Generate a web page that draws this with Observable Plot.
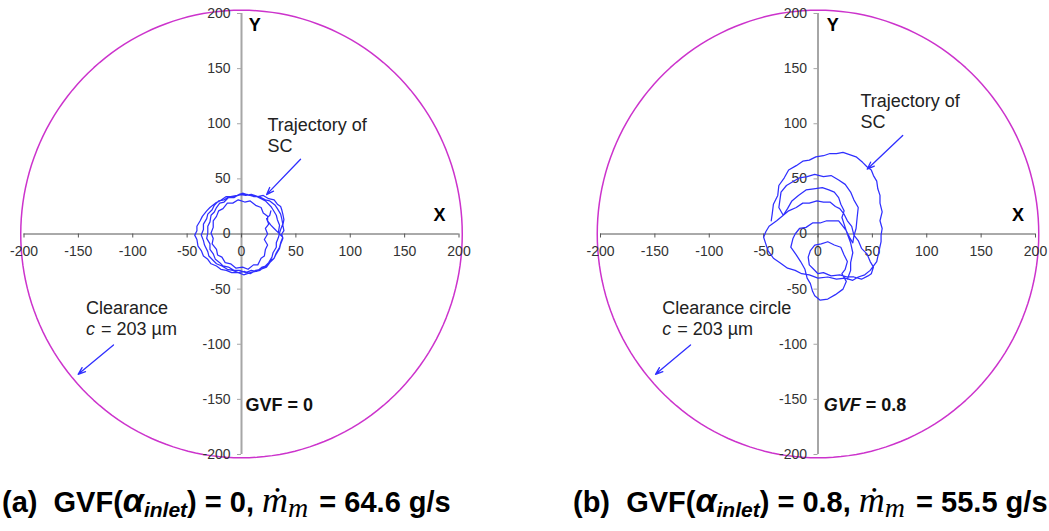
<!DOCTYPE html>
<html>
<head>
<meta charset="utf-8">
<script src="https://cdn.jsdelivr.net/npm/d3@7"></script>
<script src="https://cdn.jsdelivr.net/npm/@observablehq/plot@0.6"></script>
<style>
  html, body { margin: 0; padding: 0; background: #fff; overflow: hidden; }
  #page { position: relative; width: 1049px; height: 531px; font-family: "Liberation Sans", Arial, sans-serif; }
  .panel { position: absolute; top: 0; }
  .cap { position: absolute; top: 486px; font-weight: bold; font-size: 29px; line-height: 29px; white-space: pre; color: #000; }
  .cap .al { font-style: italic; font-size: 34px; }
  .cap .sub { font-style: italic; font-size: 21px; position: relative; top: 5px; }
  .cap .md { font-family: "Liberation Serif", "DejaVu Serif", serif; font-style: italic; font-weight: normal; font-size: 36px; }
  .cap .ms { font-family: "Liberation Serif", "DejaVu Serif", serif; font-style: italic; font-weight: normal; font-size: 28px; position: relative; top: 5px; margin-right: 3px; }
</style>
</head>
<body>
<div id="page">
  <div id="pa" class="panel" style="left:0px"></div>
  <div id="pb" class="panel" style="left:525px"></div>
  <div class="cap" style="left:2px">(a)  GVF(<span class="al">α</span><span class="sub">inlet</span>) = 0, <span class="md">ṁ</span><span class="ms">m</span> = 64.6 g/s</div>
  <div class="cap" style="left:573px">(b)  GVF(<span class="al">α</span><span class="sub">inlet</span>) = 0.8, <span class="md">ṁ</span><span class="ms">m</span> = 55.5 g/s</div>
</div>
<script>
// Axis ticks (µm), shared by both panels
const axisTicks = [-200, -150, -100, -50, 0, 50, 100, 150, 200];

// Seal clearance (radius of the clearance circle, µm)
const clearance = 203;

// Orbit of the seal centre (SC), GVF = 0: [x, y] in µm
const trajectoryA = [
  [34,2],[35,8],[33,13],[32,17],[29,22],[27,25],[22,30],[18,32],[12,35],[7,35],[1,37],[-4,35],[-10,34],[-14,34],
  [-20,30],[-24,28],[-29,24],[-32,21],[-36,16],[-38,12],[-41,7],[-41,3],[-43,-1],[-41,-5],[-40,-11],[-37,-15],
  [-35,-20],[-31,-23],[-28,-27],[-23,-29],[-19,-32],[-14,-33],[-9,-35],[-3,-35],[2,-37],[8,-35],[13,-34],[17,-33],
  [22,-29],[25,-26],[28,-21],[29,-17],[32,-12],[32,-8],[34,-3],
  [35,1],[36,4],[38,9],[37,14],[36,18],[33,23],[31,26],[26,30],[22,31],[16,34],[11,34],[5,36],[0,36],[-6,34],
  [-11,34],[-16,31],[-21,30],[-25,26],[-27,22],[-31,18],[-32,14],[-35,9],[-35,4],[-37,-1],[-35,-6],[-34,-10],
  [-31,-16],[-30,-20],[-26,-24],[-23,-27],[-18,-29],[-13,-32],[-8,-33],[-3,-35],[3,-34],[8,-36],[13,-33],[18,-32],
  [23,-30],[26,-26],[30,-22],[32,-18],[35,-13],[36,-9],[38,-4],[37,0],
  [39,3],[38,8],[39,13],[38,18],[37,22],[36,25],[33,27],[30,31],[25,32],[20,35],[15,34],[9,36],[4,35],[-2,36],
  [-7,33],[-12,33],[-16,29],[-20,28],[-23,24],[-25,20],[-28,17],[-29,11],[-31,7],[-31,1],[-32,-4],[-29,-9],
  [-29,-14],[-26,-18],[-24,-23],[-20,-26],[-17,-29],[-12,-30],[-7,-33],[-2,-33],[4,-35],[9,-33],[14,-34],[19,-30],
  [23,-29],[27,-24],[30,-22],[32,-17],[35,-12],[36,-8],[38,-3],
  [34,1],[30,5],[27,8],[24,12],[24,16],[20,19],[18,24],[13,26],[8,30],[3,29],[-3,31],[-8,28],[-13,28],[-17,23],
  [-21,21],[-23,16],[-26,12],[-26,6],[-28,1],[-26,-4],[-27,-9],[-23,-14],[-22,-19],[-18,-21],[-15,-26],[-10,-27],
  [-5,-31],[1,-30],[6,-32],[11,-28],[15,-28],[18,-22],[21,-20],[22,-14],[24,-10],[21,-5],[24,0],[22,5],[25,9],
  [23,14],[26,17],[27,21]
];

// Orbit of the seal centre (SC), GVF = 0.8: [x, y] in µm
const trajectoryB = [
  [-43,12],[-42,19],[-41,27],[-37,35],[-36,44],[-31,51],[-27,58],[-20,62],[-14,66],[-8,67],[-2,70],[5,71],
  [11,73],[17,73],[23,74],[29,72],[35,70],[41,65],[45,61],[49,58],[51,53],[54,48],[55,41],[57,35],[57,28],
  [59,20],[57,12],[59,5],[58,-1],[58,-7],
  [56,-16],[54,-25],[48,-33],[43,-37],[37,-39],[32,-42],[25,-40],[17,-41],[9,-39],[0,-40],[-8,-37],[-15,-36],
  [-21,-33],[-28,-31],[-35,-26],[-41,-22],[-46,-15],[-48,-9],[-50,-3],[-48,2],
  [-45,7],[-38,12],[-33,16],[-27,21],[-20,24],[-14,28],[-8,28],[-1,30],[5,29],[11,29],[16,25],[20,23],[24,18],
  [27,12],[31,7],[33,-1],[37,-6],[40,-13],[45,-18],[48,-25],[51,-30],[49,-36],[46,-38],[40,-41],[33,-39],[27,-39],
  [20,-37],[12,-38],[5,-35],[0,-36],[-4,-32],[-8,-28],[-9,-21],[-7,-15],[-3,-10],[3,-9],[9,-7],[15,-10],[21,-12],
  [24,-19],[27,-25],[25,-32],[22,-36],
  [26,-43],[23,-50],[16,-55],[9,-59],[2,-60],[-3,-56],[-5,-52],[-7,-45],[-10,-40],[-12,-32],[-16,-25],[-20,-19],
  [-25,-12],[-23,-4],
  [-21,0],[-17,5],[-11,6],[-5,10],[2,10],[8,12],[14,12],[19,12],[23,7],[26,3],[29,-3],[32,-8],
  [33,-2],[35,5],[36,15],[37,24],[33,31],[30,38],[25,45],[19,49],[12,53],[5,52],[-3,54],[-10,52],[-17,51],
  [-24,47],[-29,44],[-34,38],[-35,31],[-36,24],[-32,17],
  [-28,23],[-24,30],[-18,35],[-11,40],[-4,41],[4,42],[10,40],[15,38],[19,33],[21,27],[24,21],[22,15],[24,9],
  [27,0],[30,-8],[32,-17],[30,-26],[30,-33],[27,-41]
];

// Annotations (text anchored at its left end, data units)
const notesA = [
  {x: 23.9, y: 98.6, text: "Trajectory of"},
  {x: 23.9, y: 79.5, text: "SC"},
  {x: -143, y: -67.4, text: "Clearance"}
];
const notesB = [
  {x: 39, y: 120.6, text: "Trajectory of"},
  {x: 39, y: 101, text: "SC"},
  {x: -143.3, y: -67.4, text: "Clearance circle"}
];
const clearanceLabelA = {x: -143, y: -86.8};
const clearanceLabelB = {x: -143.3, y: -86.8};
const arrowsA = [
  {x1: 54.3, y1: 67.8, x2: 23, y2: 35.7},
  {x1: -117.7, y1: -100.6, x2: -150.2, y2: -127.3}
];
const arrowsB = [
  {x1: 77.9, y1: 89.4, x2: 45.2, y2: 58.8},
  {x1: -117.2, y1: -100.6, x2: -149.4, y2: -127.3}
];
const axisNamesA = [{x: 182, y: 17, text: "X"}, {x: 12.2, y: 189.3, text: "Y"}];
const axisNamesB = [{x: 184, y: 17, text: "X"}, {x: 13.6, y: 189.3, text: "Y"}];

// Clearance circle drawn from its radius
const circle = d3.range(0, 361, 2).map(a => ({
  x: clearance * Math.cos(a * Math.PI / 180),
  y: clearance * Math.sin(a * Math.PI / 180)
}));

const FONT = '"Liberation Sans", Arial, sans-serif';
const BLUE = "#2f2fff";
const fmt = d => String(d);

function orbitPanel({width, marginLeft, marginRight, trajectory, notes, clearanceLabel, arrows, axisNames, gvfMarks}) {
  const height = 470, marginTop = 13, marginBottom = 16;
  const halfH = (height - marginTop - marginBottom) / 2;
  const halfW = (width - marginLeft - marginRight) / 2;
  return Plot.plot({
    width, height, marginLeft, marginRight, marginTop, marginBottom,
    x: {domain: [-200, 200]},
    y: {domain: [-200, 200]},
    style: {fontFamily: FONT, fontSize: "14px", background: "transparent", overflow: "visible", color: "#333"},
    marks: [
      Plot.line(circle, {x: "x", y: "y", stroke: "#cc33cc", strokeWidth: 1.5}),
      Plot.ruleX([0], {stroke: "#a6a6a6", strokeWidth: 2}),
      Plot.ruleY([0], {stroke: "#555", strokeWidth: 1}),
      Plot.axisX(axisTicks, {anchor: "bottom", dy: -halfH, tickSize: 4, tickPadding: 8,
        tickFormat: fmt, stroke: "#555", fill: "#333", label: null}),
      Plot.axisY(axisTicks, {anchor: "left", dx: halfW, tickSize: 4, tickPadding: 7,
        tickFormat: fmt, stroke: "#a6a6a6", fill: "#333", label: null}),
      Plot.line(trajectory, {x: d => d[0], y: d => d[1], stroke: BLUE, strokeWidth: 1.25}),
      Plot.arrow(arrows, {x1: "x1", y1: "y1", x2: "x2", y2: "y2", stroke: BLUE, strokeWidth: 1.3, headLength: 9, headAngle: 40}),
      Plot.text(notes, {x: "x", y: "y", text: "text", textAnchor: "start", fontSize: 18, fill: "#222"}),
      Plot.text([clearanceLabel], {x: "x", y: "y", text: () => "c", textAnchor: "start", fontSize: 18, fontStyle: "italic", fill: "#222"}),
      Plot.text([clearanceLabel], {x: "x", y: "y", text: () => "= 203 µm", textAnchor: "start", dx: 15, fontSize: 18, fill: "#222"}),
      Plot.text(axisNames, {x: "x", y: "y", text: "text", fontSize: 18, fontWeight: "bold", fill: "#000"}),
      ...gvfMarks
    ]
  });
}

document.getElementById("pa").append(orbitPanel({
  width: 525, marginLeft: 23.5, marginRight: 66.5,
  trajectory: trajectoryA, notes: notesA, clearanceLabel: clearanceLabelA,
  arrows: arrowsA, axisNames: axisNamesA,
  gvfMarks: [
    Plot.text([{x: 3.7, y: -155.4}], {x: "x", y: "y", text: () => "GVF = 0", textAnchor: "start", fontSize: 18, fontWeight: "bold", fill: "#111"})
  ]
}));

document.getElementById("pb").append(orbitPanel({
  width: 524, marginLeft: 75, marginRight: 14,
  trajectory: trajectoryB, notes: notesB, clearanceLabel: clearanceLabelB,
  arrows: arrowsB, axisNames: axisNamesB,
  gvfMarks: [
    Plot.text([{x: 5.3, y: -155.4}], {x: "x", y: "y", text: () => "GVF", textAnchor: "start", fontSize: 18, fontWeight: "bold", fontStyle: "italic", fill: "#111"}),
    Plot.text([{x: 5.3, y: -155.4}], {x: "x", y: "y", text: () => "= 0.8", textAnchor: "start", dx: 42, fontSize: 18, fontWeight: "bold", fill: "#111"})
  ]
}));
</script>
</body>
</html>
